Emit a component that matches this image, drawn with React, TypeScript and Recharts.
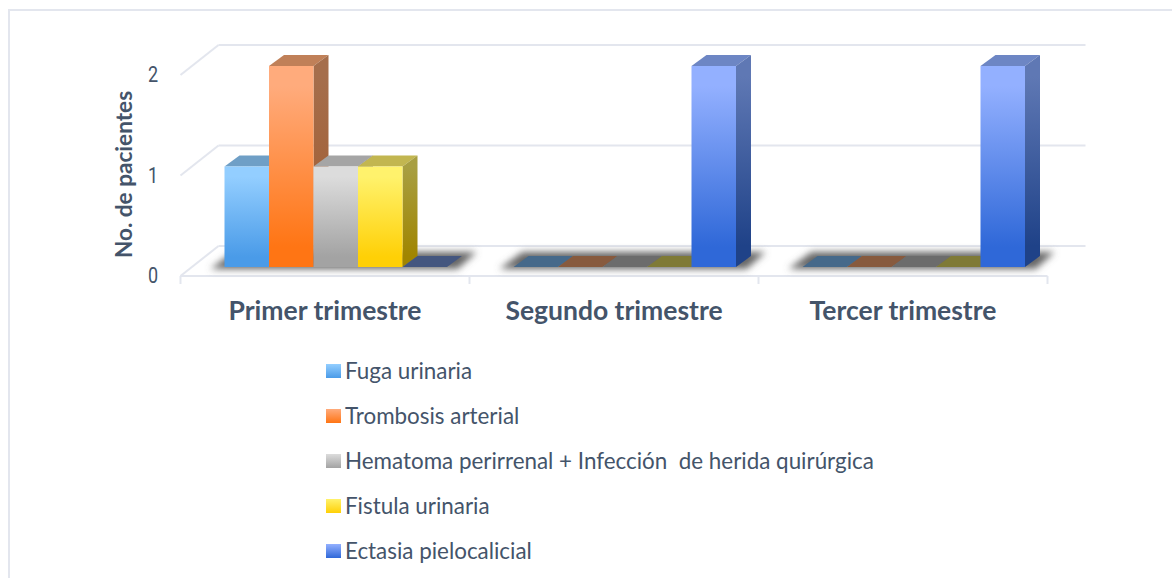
import { BarChart, Bar, XAxis, YAxis, CartesianGrid, Legend } from 'recharts';

const categories = ['Primer trimestre', 'Segundo trimestre', 'Tercer trimestre'];
const fuga = [1, 0, 0];
const trombosis = [2, 0, 0];
const hematoma = [1, 0, 0];
const fistula = [1, 0, 0];
const ectasia = [0, 2, 2];
const yTicks = [0, 1, 2];

const series = [
    { key: 'fuga', name: 'Fuga urinaria', light: '#93ceff', dark: '#4a9be8', top: '#6f9fc6', side: '#5f8fb8', sideDark: '#2f6ba5', flat: '#46698a' },
    { key: 'trombosis', name: 'Trombosis arterial', light: '#ffab7c', dark: '#ff7514', top: '#c08058', side: '#a56e4c', sideDark: '#a25c30', flat: '#875a3e' },
    { key: 'hematoma', name: 'Hematoma perirrenal + Infección  de herida quirúrgica', light: '#dcdcdc', dark: '#a3a3a3', top: '#a5a5a5', side: '#8e8e8e', sideDark: '#6f6f6f', flat: '#6c6c6c' },
    { key: 'fistula', name: 'Fistula urinaria', light: '#fff26c', dark: '#ffd006', top: '#c2b650', side: '#a89f42', sideDark: '#a08500', flat: '#7f7a36' },
    { key: 'ectasia', name: 'Ectasia pielocalicial', light: '#93b0ff', dark: '#2f68d8', top: '#6d86c4', side: '#5f78b4', sideDark: '#1f4288', flat: '#44567f' },
];

const data = categories.map((name, i) => ({
    name,
    fuga: fuga[i],
    trombosis: trombosis[i],
    hematoma: hematoma[i],
    fistula: fistula[i],
    ectasia: ectasia[i],
}));

const textColor = '#44546a';
const gridColor = '#e3e6ee';
const fontFamily = 'Lato, sans-serif';

// 3D look: the bars sit a bit behind the front floor edge, the grid is on the back wall
const floorDx = 11;
const floorDy = 9;
const wallDx = 27;
const wallDy = 21;
const depthDx = 15;
const depthDy = 11;

function Bar3D(props: any) {
    const { x, y, width, height, item } = props;
    const right = x + width;
    const base = y + height;
    return (
        <g>
            {/* first series is drawn first, so its floor shadow stays under every bar of the group */}
            {item.key === 'fuga' && (
                <polygon
                    points={`${x - 14},${base + 2} ${x + 9},${base - 15} ${x + 252},${base - 15} ${x + 233},${base + 2}`}
                    fill="#666"
                    filter="url(#floorShadow)"
                />
            )}
            <polygon
                points={`${x},${y} ${right},${y} ${right + depthDx},${y - depthDy} ${x + depthDx},${y - depthDy}`}
                fill={height > 0 ? item.top : item.flat}
            />
            {height > 0 && (
                <polygon
                    points={`${right},${y} ${right + depthDx},${y - depthDy} ${right + depthDx},${base - depthDy} ${right},${base}`}
                    fill={`url(#side-${item.key})`}
                />
            )}
            {height > 0 && <rect x={x} y={y} width={width} height={height} fill={`url(#front-${item.key})`} />}
        </g>
    );
}

function GridLine(props: any) {
    const { x1, x2, y1 } = props;
    const isFloor = y1 === 267;
    const wallY = y1 - wallDy;
    return (
        <g>
            <line x1={x1 - floorDx} y1={y1 + floorDy} x2={x1 + wallDx} y2={wallY} stroke={gridColor} strokeWidth={2} />
            <line x1={x1 + wallDx} y1={wallY} x2={x2 + wallDx} y2={wallY} stroke={gridColor} strokeWidth={2} />
            {isFloor && <line x1={x1 - floorDx} y1={y1 + floorDy} x2={x2 - floorDx} y2={y1 + floorDy} stroke={gridColor} strokeWidth={2} />}
        </g>
    );
}

function CategoryTick(props: any) {
    const { x, y, payload, index } = props;
    const half = 144.5;
    const cx = x - floorDx;
    const base = y + floorDy;
    return (
        <g>
            <line x1={cx - half} y1={base} x2={cx - half} y2={base + 8} stroke={gridColor} strokeWidth={2} />
            {index === categories.length - 1 && (
                <line x1={cx + half} y1={base} x2={cx + half} y2={base + 8} stroke={gridColor} strokeWidth={2} />
            )}
            <text x={cx} y={base + 44} textAnchor="middle" fill={textColor} fontSize={26.5} fontWeight={700} fontFamily={fontFamily}>
                {payload.value}
            </text>
        </g>
    );
}

function ValueTick(props: any) {
    const { y, payload } = props;
    // digits of the reference are narrower than any installed font
    return (
        <text transform={`translate(158,${y + 16}) scale(0.8,1)`} textAnchor="end" fill={textColor} fontSize={22.5} fontFamily="Roboto, sans-serif">
            {payload.value}
        </text>
    );
}

function LegendList() {
    return (
        <div>
            {series.map((s) => (
                <div key={s.key} style={{ display: 'flex', alignItems: 'center', height: 45, whiteSpace: 'pre', color: textColor, fontFamily, fontSize: 22.4 }}>
                    <span style={{ width: 15, height: 14, marginRight: 4, background: `linear-gradient(${s.light}, ${s.dark})` }} />
                    {s.name}
                </div>
            ))}
        </div>
    );
}

export default function App() {
    return (
        <div style={{ position: 'absolute', left: 0, top: 0, width: 1172, height: 578, background: '#fff', overflow: 'hidden' }}>
            {/* only the top and left edges of the frame are in the picture */}
            <div style={{ position: 'absolute', left: 8, top: 9, width: 1180, height: 580, border: `2px solid ${gridColor}`, boxSizing: 'border-box' }} />
            <BarChart
                width={1172}
                height={578}
                data={data}
                margin={{ top: 66, right: 113.5, bottom: 281, left: 91.5 }}
                barSize={44.5}
                barGap={0}
                style={{ position: 'absolute', left: 0, top: 0 }}
            >
                <defs>
                    <filter id="floorShadow" x="-10%" y="-50%" width="120%" height="200%">
                        <feGaussianBlur stdDeviation="3.5" />
                    </filter>
                    {series.map((s) => (
                        <linearGradient key={s.key} id={`front-${s.key}`} x1="0" y1="0" x2="0" y2="1">
                            <stop offset="10%" stopColor={s.light} />
                            <stop offset="90%" stopColor={s.dark} />
                        </linearGradient>
                    ))}
                    {series.map((s) => (
                        <linearGradient key={s.key} id={`side-${s.key}`} x1="0" y1="0" x2="0" y2="1">
                            <stop offset="10%" stopColor={s.side} />
                            <stop offset="90%" stopColor={s.sideDark} />
                        </linearGradient>
                    ))}
                </defs>
                <CartesianGrid horizontal={(p: any) => <GridLine key={p.key} {...p} />} vertical={false} />
                <XAxis dataKey="name" height={30} axisLine={false} tickLine={false} tickSize={0} tickMargin={0} interval={0} tick={<CategoryTick />} />
                <YAxis
                    width={100}
                    domain={[0, 2]}
                    ticks={yTicks}
                    axisLine={false}
                    tickLine={false}
                    tick={<ValueTick />}
                    label={{
                        value: 'No. de pacientes',
                        angle: -90,
                        position: 'center',
                        dx: -18,
                        dy: 8,
                        fill: textColor,
                        fontSize: 22.6,
                        fontWeight: 700,
                        fontFamily,
                    }}
                />
                <Legend layout="vertical" align="center" verticalAlign="middle" wrapperStyle={{ position: 'absolute', left: 326, top: 348, width: 700 }} content={<LegendList />} />
                {series.map((s) => (
                    <Bar key={s.key} dataKey={s.key} name={s.name} isAnimationActive={false} shape={(p: any) => <Bar3D {...p} item={s} />} />
                ))}
            </BarChart>
        </div>
    );
}
